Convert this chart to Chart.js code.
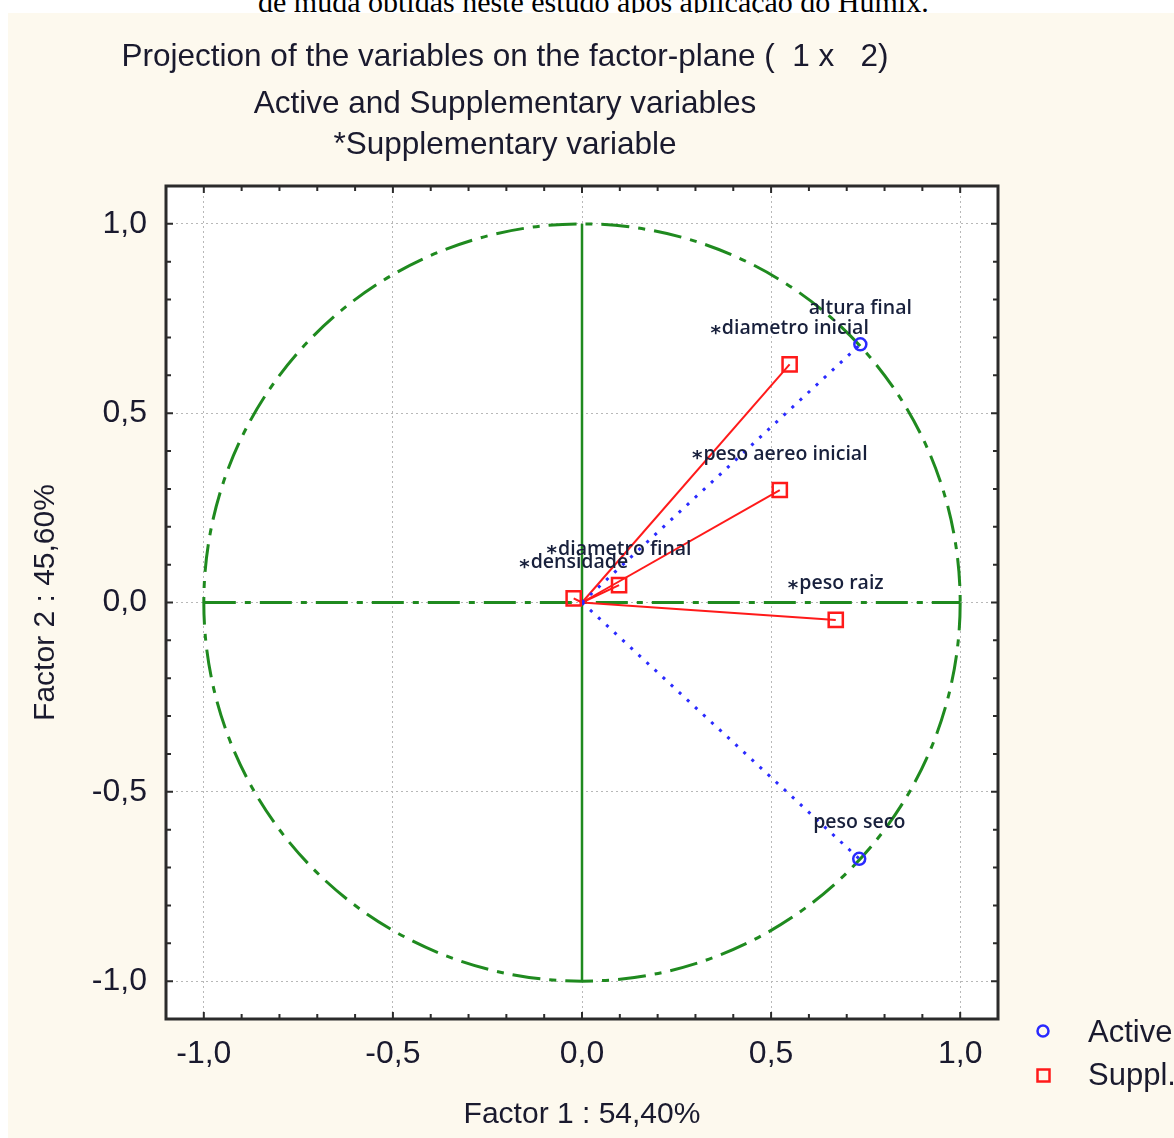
<!DOCTYPE html>
<html>
<head>
<meta charset="utf-8">
<style>
  html, body { margin: 0; padding: 0; background: #fff; }
  body { width: 1174px; height: 1138px; position: relative; overflow: hidden; }
  #caption { position: absolute; left: 0; top: 0; width: 1174px; height: 13px; overflow: hidden; }
  #caption div { position: absolute; left: 258px; top: -13px; font-family: "Liberation Serif"; font-size: 30px; line-height: 30px; white-space: nowrap; color: #000; }
  #wrap { position: absolute; left: 8px; top: 13px; width: 1166px; height: 1125px; }
</style>
<script src="https://cdn.jsdelivr.net/npm/chart.js"></script>
</head>
<body>
<div id="caption"><div>de muda obtidas neste estudo após aplicação do Humix.</div></div>
<div id="wrap"><canvas id="myChart" width="1166" height="1125"></canvas></div>

<script>
// chart data
var titleLines = ['Projection of the variables on the factor-plane (  1 x   2)', 'Active and Supplementary variables', '*Supplementary variable'];
var xTitle = 'Factor 1 : 54,40%';
var yTitle = 'Factor 2 : 45,60%';
var tickValues = [-1, -0.5, 0, 0.5, 1];
var tickLabels = ['-1,0', '-0,5', '0,0', '0,5', '1,0'];
var legendNames = ['Active', 'Suppl.'];

var activeNames = ['altura final', 'peso seco'];
var activeX = [0.736, 0.733];
var activeY = [0.682, -0.677];

var supplNames = ['diametro inicial', 'peso aereo inicial', 'peso raiz', 'diametro final', 'densidade'];
var supplX = [0.549, 0.523, 0.671, 0.098, -0.022];
var supplY = [0.629, 0.297, -0.046, 0.046, 0.011];

var BLUE = '#2a2aff', RED = '#ff1a1a', GREEN = '#1f8a1f', TXT = '#1a1a2e';
var FONT = '"Liberation Sans", Arial, sans-serif';

function fmtTick(v) {
    var k = Math.round(v * 10);
    var i = tickValues.indexOf(k / 10);
    return i >= 0 ? tickLabels[i] : '';
}

function gridColor(c) {
    var k = Math.round(c.tick.value * 10);
    return (k % 5 === 0 && Math.abs(k) <= 10) ? '#b8b8b8' : 'rgba(0,0,0,0)';
}

var datasets = [];
datasets.push({
    label: legendNames[0],
    data: activeX.map(function (x, i) { return {x: x, y: activeY[i]}; }),
    pointStyle: 'circle', pointRadius: 6, borderColor: BLUE, backgroundColor: 'rgba(0,0,0,0)',
    pointBorderWidth: 2.5, showLine: false, order: 0
});
datasets.push({
    label: legendNames[1],
    data: supplX.map(function (x, i) { return {x: x, y: supplY[i]}; }),
    pointStyle: 'rect', pointRadius: 10, borderColor: RED, backgroundColor: 'rgba(0,0,0,0)',
    pointBorderWidth: 2.5, showLine: false, order: 0
});
// vectors from the origin
for (var i = 0; i < activeX.length; i++) {
    datasets.push({
        data: [{x: 0, y: 0}, {x: activeX[i], y: activeY[i]}], showLine: true,
        borderColor: BLUE, borderWidth: 3, borderDash: [3, 8], pointRadius: 0, order: 1
    });
}
for (var j = 0; j < supplX.length; j++) {
    datasets.push({
        data: [{x: 0, y: 0}, {x: supplX[j], y: supplY[j]}], showLine: true,
        borderColor: RED, borderWidth: 2, pointRadius: 0, order: 1
    });
}

var decor = {
    id: 'decor',
    beforeDraw: function (chart) {
        var ctx = chart.ctx, a = chart.chartArea;
        ctx.save();
        ctx.fillStyle = '#fdf9ee';
        ctx.fillRect(0, 0, chart.width, chart.height);
        ctx.fillStyle = '#ffffff';
        ctx.fillRect(a.left, a.top, a.right - a.left, a.bottom - a.top);
        ctx.restore();
    },
    beforeDatasetsDraw: function (chart) {
        var ctx = chart.ctx, xs = chart.scales.x, ys = chart.scales.y;
        var cx = xs.getPixelForValue(0), cy = ys.getPixelForValue(0);
        var rx = xs.getPixelForValue(1) - cx, ry = cy - ys.getPixelForValue(1);
        ctx.save();
        ctx.strokeStyle = GREEN;
        ctx.lineWidth = 3;
        ctx.setLineDash([28, 9, 7, 9]);
        ctx.beginPath();
        ctx.ellipse(cx, cy, rx, ry, 0, 0, Math.PI * 2);
        ctx.stroke();
        ctx.lineWidth = 3;
        ctx.setLineDash([32, 9, 6, 9]);
        ctx.beginPath();
        ctx.moveTo(xs.getPixelForValue(-1), cy);
        ctx.lineTo(xs.getPixelForValue(1), cy);
        ctx.stroke();
        ctx.lineWidth = 2.5;
        ctx.setLineDash([]);
        ctx.beginPath();
        ctx.moveTo(cx, ys.getPixelForValue(1));
        ctx.lineTo(cx, ys.getPixelForValue(-1));
        ctx.stroke();
        ctx.restore();
    },
    afterDraw: function (chart) {
        var ctx = chart.ctx, a = chart.chartArea, xs = chart.scales.x, ys = chart.scales.y;
        ctx.save();
        // frame
        ctx.strokeStyle = '#2b2b2b';
        ctx.lineWidth = 3;
        ctx.strokeRect(a.left, a.top, a.right - a.left, a.bottom - a.top);
        // inward tick marks
        ctx.lineWidth = 2;
        ctx.beginPath();
        xs.ticks.forEach(function (t) {
            var k = Math.round(t.value * 10);
            if (Math.abs(k) > 10) return;
            var len = k % 5 === 0 ? 7 : 5, p = xs.getPixelForValue(t.value);
            ctx.moveTo(p, a.bottom); ctx.lineTo(p, a.bottom - len);
            ctx.moveTo(p, a.top); ctx.lineTo(p, a.top + len);
        });
        ys.ticks.forEach(function (t) {
            var k = Math.round(t.value * 10);
            if (Math.abs(k) > 10) return;
            var len = k % 5 === 0 ? 7 : 5, p = ys.getPixelForValue(t.value);
            ctx.moveTo(a.left, p); ctx.lineTo(a.left + len, p);
            ctx.moveTo(a.right, p); ctx.lineTo(a.right - len, p);
        });
        ctx.stroke();

        // point labels
        var lblFont = '600 19.5px "Open Sans", sans-serif';
        ctx.fillStyle = '#18203c';
        ctx.textBaseline = 'middle';
        function label(name, x, y, star) {
            var px = xs.getPixelForValue(x), py = ys.getPixelForValue(y) - 36;
            ctx.font = lblFont;
            var w = ctx.measureText(name).width;
            var sw = 0;
            if (star) {
                ctx.font = '700 20px "DejaVu Sans", sans-serif';
                sw = ctx.measureText('*').width + 1;
            }
            var left = px - (w + sw) / 2;
            if (star) {
                ctx.textAlign = 'left';
                ctx.fillText('*', left, py + 5);
            }
            ctx.font = lblFont;
            ctx.textAlign = 'left';
            ctx.fillText(name, left + sw, py);
        }
        activeNames.forEach(function (n, i) { label(n, activeX[i], activeY[i], false); });
        supplNames.forEach(function (n, i) { label(n, supplX[i], supplY[i], true); });

        // title
        ctx.fillStyle = TXT;
        ctx.font = '31.5px ' + FONT;
        ctx.textAlign = 'center';
        ctx.textBaseline = 'alphabetic';
        var base = [53, 100, 141];
        titleLines.forEach(function (t, i) { ctx.fillText(t, 497, base[i]); });

        // legend
        ctx.font = '31px ' + FONT;
        ctx.lineWidth = 2.5;
        ctx.strokeStyle = BLUE;
        ctx.beginPath();
        ctx.arc(1035, 1018, 5.5, 0, Math.PI * 2);
        ctx.stroke();
        ctx.strokeStyle = RED;
        ctx.strokeRect(1029.5, 1056.5, 12, 12);
        ctx.textAlign = 'left';
        ctx.textBaseline = 'middle';
        ctx.fillText(legendNames[0], 1080, 1020);
        ctx.fillText(legendNames[1], 1080, 1063);
        ctx.restore();
    }
};

new Chart(document.getElementById('myChart'), {
    type: 'scatter',
    data: { datasets: datasets },
    options: {
        responsive: false,
        animation: false,
        layout: { padding: { top: 173, right: 176, bottom: 0, left: 0 } },
        plugins: { legend: { display: false }, tooltip: { enabled: false } },
        scales: {
            x: {
                type: 'linear', min: -1.1, max: 1.1,
                ticks: { stepSize: 0.1, autoSkip: false, maxRotation: 0, padding: 16, color: TXT,
                         font: { family: FONT, size: 32 }, callback: fmtTick },
                grid: { drawTicks: false, color: gridColor, lineWidth: 1 },
                border: { display: false, dash: [2, 3] },
                title: { display: true, text: xTitle, color: TXT, font: { family: FONT, size: 30 },
                         padding: { top: 0, bottom: 5 } },
                afterFit: function (s) { s.height = 119; }
            },
            y: {
                type: 'linear', min: -1.1, max: 1.1,
                ticks: { stepSize: 0.1, autoSkip: false, padding: 19, color: TXT,
                         font: { family: FONT, size: 32 }, callback: fmtTick },
                grid: { drawTicks: false, color: gridColor, lineWidth: 1 },
                border: { display: false, dash: [2, 3] },
                title: { display: true, text: yTitle, color: TXT, font: { family: FONT, size: 30 },
                         padding: { top: 20, bottom: 0 } },
                afterFit: function (s) { s.width = 158; }
            }
        }
    },
    plugins: [decor]
});
</script>
</body>
</html>
